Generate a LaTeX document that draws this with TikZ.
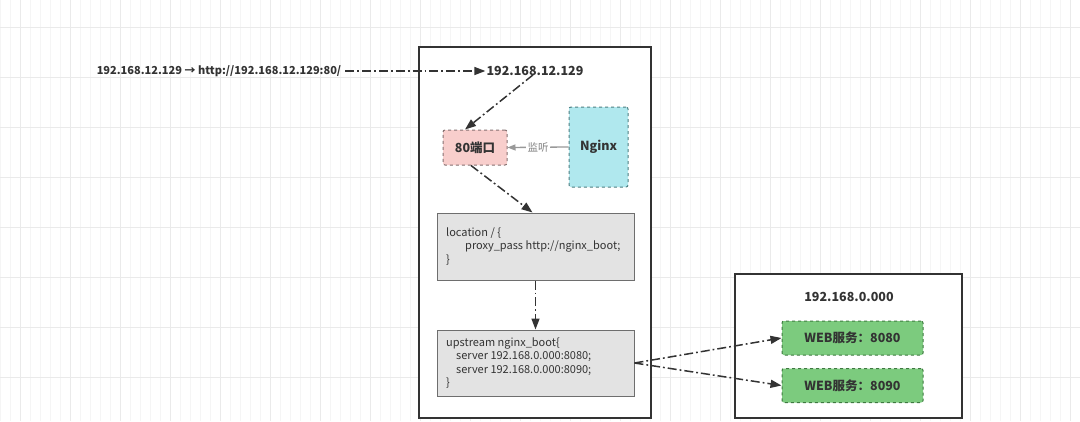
\documentclass[tikz,border=0pt]{standalone}
\usepackage{fontspec}
\setmainfont{Noto Sans CJK SC}
\usetikzlibrary{arrows.meta}
\definecolor{txt}{HTML}{333333}
\definecolor{gridminor}{HTML}{F5F5F5}
\definecolor{gridmajor}{HTML}{EAEAEA}
\definecolor{pinkfill}{HTML}{F8CECC}
\definecolor{pinkline}{HTML}{857070}
\definecolor{cyanfill}{HTML}{B0E8EE}
\definecolor{cyanline}{HTML}{4E7F82}
\definecolor{greenfill}{HTML}{7CCB7E}
\definecolor{greenline}{HTML}{3E7A40}
\definecolor{greyfill}{HTML}{E3E3E3}
\definecolor{greyline}{HTML}{6E6E6E}
\tikzset{
  container/.style={draw=txt, line width=1.4pt, fill=white, rectangle, inner sep=0pt},
  dashbox/.style={rectangle, rounded corners=2pt, dashed, line width=1pt, inner sep=0pt, font=\bfseries\fontsize{12.5}{14}\selectfont, text=txt},
  codebox/.style={rectangle, draw=greyline, fill=greyfill, line width=1pt, inner sep=0pt, text=txt},
  lbl/.style={font=\bfseries\fontsize{12.5}{14}\selectfont, text=txt, inner sep=1pt},
  flow/.style={draw=txt, line width=1.5pt, dash pattern=on 9pt off 3pt on 1.8pt off 3pt, -{Triangle[length=11pt,width=8pt]}},
  listen/.style={draw=gray!80, line width=1.3pt, -{Triangle[length=8pt,width=6pt]}}
}
\begin{document}
\begin{tikzpicture}[x=1pt,y=-1pt]
\fill[white] (0,0) rectangle (1080,421);
\useasboundingbox (0,0) rectangle (1080,421);
% grid
\draw[gridminor, line width=0.4pt] (0,0) grid[step=10] (1080,421);
\foreach \gx in {20,70,...,1070} \draw[gridmajor, line width=0.6pt] (\gx,0) -- (\gx,421);
\foreach \gy in {27,77,...,421} \draw[gridmajor, line width=0.6pt] (0,\gy) -- (1080,\gy);

% containers
\node[container, minimum width=232pt, minimum height=371pt] (leftbox) at (535,232.5) {};
\node[container, minimum width=227pt, minimum height=144pt] (rightbox) at (848.5,346) {};

% labels
\node[lbl, font=\bfseries\fontsize{11}{13}\selectfont] (url) at (219,71) {192.168.12.129 → http://192.168.12.129:80/};
\node[lbl] (ip1) at (535,71) {192.168.12.129};
\node[lbl] (ip2) at (849,297) {192.168.0.000};

% inner boxes
\node[dashbox, draw=pinkline, fill=pinkfill, minimum width=64pt, minimum height=35pt] (port) at (475,147.5) {80端口};
\node[dashbox, draw=cyanline, fill=cyanfill, minimum width=59pt, minimum height=80pt] (nginx) at (598.5,147) {Nginx};

\node[codebox, minimum width=197pt, minimum height=67pt] (loc) at (535.5,246.5) {};
\node[anchor=west, align=left, text=txt, font=\fontsize{11}{13.5}\selectfont, inner sep=0pt] (loctext) at (446,246.5)
  {location / \{\\\hspace*{19pt}proxy\_pass http://nginx\_boot;\\\}};

\node[codebox, minimum width=197pt, minimum height=66pt] (up) at (535.5,363) {};
\node[anchor=west, align=left, text=txt, font=\fontsize{11}{13.5}\selectfont, inner sep=0pt] (uptext) at (446,363)
  {upstream nginx\_boot\{\\\hspace*{10pt}server 192.168.0.000:8080;\\\hspace*{10pt}server 192.168.0.000:8090;\\\}};

\node[dashbox, draw=greenline, fill=greenfill, minimum width=141pt, minimum height=34pt] (web1) at (852.5,338) {WEB服务：8080};
\node[dashbox, draw=greenline, fill=greenfill, minimum width=141pt, minimum height=34pt] (web2) at (852.5,385.5) {WEB服务：8090};

% connectors
\draw[flow] ([xshift=3pt]url.east) -- (ip1.west);
\draw[flow] ([xshift=-2pt,yshift=2pt]ip1.south) -- ([xshift=-10pt]port.north);
\draw[listen] (nginx.west) -- node[fill=white, text=gray, font=\fontsize{10.5}{12}\selectfont, inner sep=1.5pt] (listenlbl) {监听} (port.east);
\draw[flow] ([xshift=-4pt]port.south) -- ([xshift=-3pt]loc.north);
\draw[flow] (loc.south) -- (up.north);
\draw[flow] (up.east) -- (web1.west);
\draw[flow] (up.east) -- (web2.west);
\end{tikzpicture}
\end{document}
